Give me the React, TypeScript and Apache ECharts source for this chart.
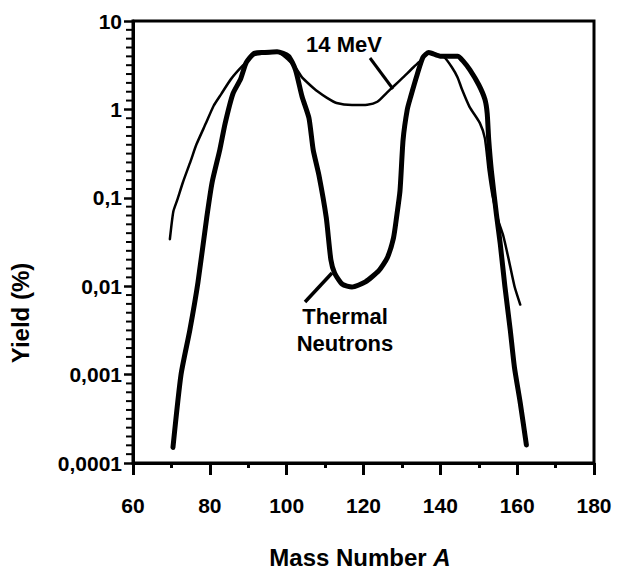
import React, { useEffect, useRef } from "react";
import * as echarts from "echarts";

// Thermal neutron fission yields (thick curve)
const thermalMass = [
  70.4, 72.5, 74.8, 76.9, 79.2, 80.6, 82.6, 84, 86, 88, 89.5, 91.5, 94, 97.5,
  100.5, 102.3, 104, 105.8, 106.9, 108.4, 110.3, 111.5, 112.5, 114.5, 117,
  120.5, 124, 126.2, 127.8, 128.6, 129.5, 130.3, 131.4, 132.3, 134, 135.5, 137,
  140, 144.5, 146, 147.7, 150, 151.6, 152.2, 152.6, 153.3, 154.6, 155.6, 156.8,
  158.2, 159.3, 160.8, 162.4,
];
const thermalYield = [
  0.00015, 0.001, 0.0032, 0.011, 0.06, 0.15, 0.35, 0.7, 1.5, 2.2, 3.4, 4.3, 4.4,
  4.5, 4.0, 2.8, 1.4, 0.8, 0.35, 0.18, 0.06, 0.02, 0.014, 0.0105, 0.0098,
  0.0112, 0.015, 0.021, 0.035, 0.06, 0.12, 0.45, 1.0, 1.4, 2.5, 3.9, 4.4, 4.0,
  4.0, 3.5, 2.8, 1.9, 1.3, 0.9, 0.45, 0.2, 0.065, 0.03, 0.01, 0.0032, 0.0012,
  0.00048, 0.00016,
];

// 14 MeV neutron fission yields (thin curve)
const mevMass = [
  69.6, 70.5, 71.5, 73, 75, 76.5, 79, 81, 83, 85.5, 88.5, 91.5, 94, 97.7, 100.5,
  102.7, 104, 106, 108, 110.5, 113, 117, 121, 123.6, 126.1, 128, 130.3, 133,
  135, 136.8, 139, 141, 143, 144.5, 145.6, 147.6, 150.3, 151.6, 152.6, 153.6,
  155.1, 156.4, 157.7, 159.3, 160.8,
];
const mevYield = [
  0.034, 0.07, 0.094, 0.15, 0.26, 0.4, 0.7, 1.1, 1.5, 2.2, 3.1, 4.1, 4.3, 4.4,
  3.6, 2.8, 2.3, 1.9, 1.6, 1.35, 1.18, 1.12, 1.13, 1.22, 1.55, 1.85, 2.3, 3.0,
  3.6, 4.4, 4.2, 3.9, 3.0, 2.3, 1.7, 1.07, 0.7, 0.47, 0.2, 0.105, 0.055, 0.037,
  0.021, 0.01, 0.0062,
];

const yTickLabels = ["0,0001", "0,001", "0,01", "0,1", "1", "10"];
const xTickValues = [60, 80, 100, 120, 140, 160, 180];
// small ticks on the yield axis: ten per decade, from 1e-4 to 10
const minorTicksPerDecade = 10;
const decadeLow = -4;
const decadeHigh = 1;

const FONT = "Liberation Sans, Arial, Helvetica, sans-serif";

export default function App() {
  const ref = useRef<HTMLDivElement>(null);

  useEffect(() => {
    if (!ref.current) return;
    const chart = echarts.init(ref.current, null, { renderer: "svg" });
    const thermal = thermalMass.map((m, i) => [m, thermalYield[i]]);
    const mev = mevMass.map((m, i) => [m, mevYield[i]]);

    const smallTicks: number[][] = [];
    const n = (decadeHigh - decadeLow) * minorTicksPerDecade;
    for (let i = 1; i < n; i++) {
      if (i % minorTicksPerDecade === 0) continue;
      smallTicks.push([
        xTickValues[0],
        Math.pow(10, decadeLow + i / minorTicksPerDecade),
      ]);
    }

    chart.setOption({
      animation: false,
      backgroundColor: "#fff",
      grid: {
        left: 133,
        right: 30,
        top: 21,
        bottom: 110,
        show: true,
        borderColor: "#000",
        borderWidth: 3,
        backgroundColor: "transparent",
      },
      xAxis: {
        type: "value",
        min: xTickValues[0],
        max: xTickValues[xTickValues.length - 1],
        interval: 20,
        axisLine: {
          show: true,
          onZero: false,
          lineStyle: { color: "#000", width: 3 },
        },
        axisTick: {
          show: true,
          inside: false,
          length: 12,
          lineStyle: { color: "#000", width: 3 },
        },
        minorTick: {
          show: true,
          splitNumber: 2,
          length: 5,
          lineStyle: { color: "#000", width: 3 },
        },
        splitLine: { show: false },
        axisLabel: {
          color: "#000",
          fontFamily: FONT,
          fontWeight: "bold",
          fontSize: 21,
          margin: 32,
        },
      },
      yAxis: {
        type: "log",
        logBase: 10,
        min: 0.0001,
        max: 10,
        axisLine: { show: true, lineStyle: { color: "#000", width: 3 } },
        axisTick: {
          show: true,
          length: 9,
          lineStyle: { color: "#000", width: 2.5 },
        },
        splitLine: { show: false },
        minorSplitLine: { show: false },
        axisLabel: {
          color: "#000",
          fontFamily: FONT,
          fontWeight: "bold",
          fontSize: 21,
          margin: 11,
          formatter: (v: number) => {
            const idx = Math.round(Math.log10(v)) + 4;
            return yTickLabels[idx] ?? "";
          },
        },
      },
      series: [
        {
          name: "small ticks",
          type: "scatter",
          data: smallTicks,
          clip: false,
          silent: true,
          symbol: "rect",
          symbolSize: [6, 2],
          symbolOffset: [-4, 0],
          itemStyle: { color: "#000", opacity: 1 },
          z: 10,
        },
        {
          name: "Thermal Neutrons",
          type: "line",
          data: thermal,
          symbol: "none",
          smooth: 0.2,
          lineStyle: { color: "#000", width: 5, cap: "round", join: "round" },
          z: 3,
        },
        {
          name: "14 MeV",
          type: "line",
          data: mev,
          symbol: "none",
          smooth: 0.2,
          lineStyle: { color: "#000", width: 2.5, cap: "round", join: "round" },
          z: 4,
        },
      ],
      graphic: [
        {
          type: "text",
          x: 344,
          y: 44,
          style: {
            text: "14 MeV",
            fill: "#000",
            font: `bold 22px ${FONT}`,
            align: "center",
            verticalAlign: "middle",
          },
        },
        {
          type: "line",
          shape: { x1: 370, y1: 58, x2: 393, y2: 89 },
          style: { stroke: "#000", lineWidth: 3 },
        },
        {
          type: "text",
          x: 345,
          y: 316,
          style: {
            text: "Thermal",
            fill: "#000",
            font: `bold 22px ${FONT}`,
            align: "center",
            verticalAlign: "middle",
          },
        },
        {
          type: "text",
          x: 345,
          y: 343,
          style: {
            text: "Neutrons",
            fill: "#000",
            font: `bold 22px ${FONT}`,
            align: "center",
            verticalAlign: "middle",
          },
        },
        {
          type: "line",
          shape: { x1: 305, y1: 302, x2: 332, y2: 273 },
          style: { stroke: "#000", lineWidth: 3.5 },
        },
        {
          type: "text",
          x: 20,
          y: 313,
          rotation: Math.PI / 2,
          style: {
            text: "Yield (%)",
            fill: "#000",
            font: `bold 24px ${FONT}`,
            align: "center",
            verticalAlign: "middle",
          },
        },
        {
          type: "text",
          x: 360,
          y: 557,
          style: {
            text: "Mass Number {i|A}",
            fill: "#000",
            font: `bold 24px ${FONT}`,
            align: "center",
            verticalAlign: "middle",
            rich: {
              i: {
                fontStyle: "italic",
                fontWeight: "bold",
                fontSize: 24,
                fontFamily: FONT,
                fill: "#000",
              },
            },
          },
        },
      ],
    });

    return () => chart.dispose();
  }, []);

  return (
    <div
      ref={ref}
      style={{
        position: "fixed",
        left: 0,
        top: 0,
        width: 624,
        height: 573,
        background: "#fff",
      }}
    />
  );
}
